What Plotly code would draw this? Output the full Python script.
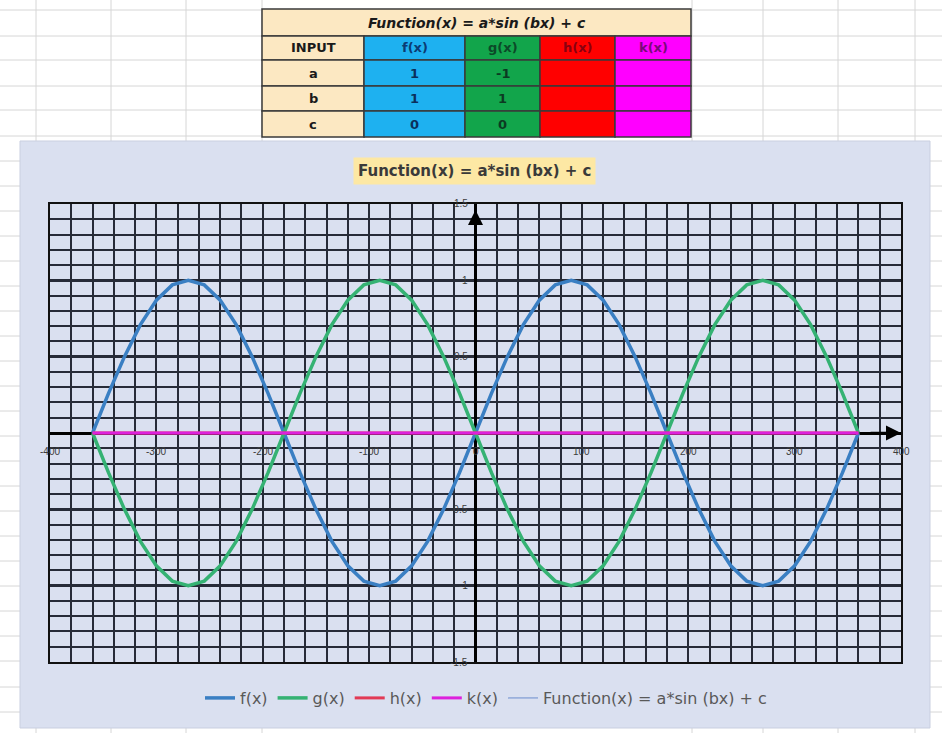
import plotly.graph_objects as go

# ---------------- data ----------------
x_deg = [-360, -345, -330, -315, -300, -285, -270, -255, -240, -225, -210, -195,
         -180, -165, -150, -135, -120, -105, -90, -75, -60, -45, -30, -15,
         0, 15, 30, 45, 60, 75, 90, 105, 120, 135, 150, 165,
         180, 195, 210, 225, 240, 255, 270, 285, 300, 315, 330, 345, 360]
f_vals = [0, 0.26, 0.5, 0.71, 0.87, 0.97, 1, 0.97, 0.87, 0.71, 0.5, 0.26,
          0, -0.26, -0.5, -0.71, -0.87, -0.97, -1, -0.97, -0.87, -0.71, -0.5, -0.26,
          0, 0.26, 0.5, 0.71, 0.87, 0.97, 1, 0.97, 0.87, 0.71, 0.5, 0.26,
          0, -0.26, -0.5, -0.71, -0.87, -0.97, -1, -0.97, -0.87, -0.71, -0.5, -0.26, 0]
g_vals = [0, -0.26, -0.5, -0.71, -0.87, -0.97, -1, -0.97, -0.87, -0.71, -0.5, -0.26,
          0, 0.26, 0.5, 0.71, 0.87, 0.97, 1, 0.97, 0.87, 0.71, 0.5, 0.26,
          0, -0.26, -0.5, -0.71, -0.87, -0.97, -1, -0.97, -0.87, -0.71, -0.5, -0.26,
          0, 0.26, 0.5, 0.71, 0.87, 0.97, 1, 0.97, 0.87, 0.71, 0.5, 0.26, 0]
h_vals = [0] * 49
k_vals = [0] * 49

x_tick_labels = ["-400", "-300", "-200", "-100", "0", "100", "200", "300", "400"]
x_tick_vals = [-400, -300, -200, -100, 0, 100, 200, 300, 400]
y_tick_labels = ["1.5", "1", "0.5", "-0.5", "-1", "-1.5"]
y_tick_vals = [1.5, 1, 0.5, -0.5, -1, -1.5]

title_text = "Function(x) = a*sin (bx) + c"
table_header = ["INPUT", "f(x)", "g(x)", "h(x)", "k(x)"]
table_rows = ["a", "b", "c"]
table_f = ["1", "1", "0"]
table_g = ["-1", "1", "0"]
table_h = ["", "", ""]
table_k = ["", "", ""]

# ---------------- layout helpers ----------------
W, H = 942, 733
def px(x):
    return x / W
def py(y):
    return 1 - y / H

CHART_BG = "#DAE0F0"
GRID = "#272B38"
FONT_UI = "DejaVu Sans"

fig = go.Figure()

series = [
    ("f(x)", f_vals, "#3A7FC3", 3.5),
    ("g(x)", g_vals, "#35B273", 3.5),
    ("h(x)", h_vals, "#E23A55", 3),
    ("k(x)", k_vals, "#DD22DD", 3),
]
for name, vals, col, w in series:
    fig.add_trace(go.Scatter(x=x_deg, y=vals, mode="lines", name=name,
                             line=dict(color=col, width=w)))
fig.add_trace(go.Scatter(x=[None], y=[None], mode="lines", name=title_text,
                         line=dict(color="#8FA8D8", width=1.5)))

shapes = []
annotations = []

# spreadsheet gridlines
row_lines = [10, 36, 60, 86, 110, 136, 161, 186, 211, 236, 261, 286, 311, 336, 361,
             386, 411, 436, 461, 486, 511, 536, 561, 586, 611, 636, 661, 687, 712]
col_lines = [36, 111, 186, 262, 692, 763, 838, 915]
for yy in row_lines:
    shapes.append(dict(type="line", xref="paper", yref="paper", x0=0, x1=1,
                       y0=py(yy), y1=py(yy), line=dict(color="#D6D6D6", width=1),
                       layer="below"))
for xx in col_lines:
    shapes.append(dict(type="line", xref="paper", yref="paper", x0=px(xx), x1=px(xx),
                       y0=0, y1=1, line=dict(color="#D6D6D6", width=1), layer="below"))
# chart area
shapes.append(dict(type="rect", xref="paper", yref="paper", x0=px(20), x1=px(930),
                   y0=py(728), y1=py(141), fillcolor=CHART_BG,
                   line=dict(color="#C9CFE0", width=1), layer="below"))

# ---------------- input table (built from the table arrays) ----------------
col_edges = [262, 364, 465, 540, 615, 691]
row_edges = [36, 60, 86, 111, 137]
fills = ["#FCE8C2", "#1EB1F0", "#12A54B", "#FF0000", "#FF00FF"]
head_colors = ["#1A1A1A", "#0B3C74", "#0C4A28", "#8A0010", "#7A0A7A"]
cell_colors = ["#1A1A1A", "#0B2F5C", "#0C3A22", "#1A1A1A", "#1A1A1A"]
table_columns = [table_rows, table_f, table_g, table_h, table_k]
LINE = dict(color="#3A3A3A", width=1.5)

shapes.append(dict(type="rect", xref="paper", yref="paper", x0=px(col_edges[0]),
                   x1=px(col_edges[-1]), y0=py(row_edges[0]), y1=py(9),
                   fillcolor="#FCE8C2", line=LINE, layer="above"))
annotations.append(dict(xref="paper", yref="paper", x=px((col_edges[0] + col_edges[-1]) / 2),
                        y=py(22.5), xanchor="center", yanchor="middle",
                        text=f"<b><i>{title_text}</i></b>", showarrow=False,
                        font=dict(family=FONT_UI, size=14, color="#1A1A1A")))
for j in range(5):
    x0, x1 = col_edges[j], col_edges[j + 1]
    cells = [table_header[j]] + table_columns[j]
    for i, txt in enumerate(cells):
        y0, y1 = row_edges[i], row_edges[i + 1]
        shapes.append(dict(type="rect", xref="paper", yref="paper", x0=px(x0), x1=px(x1),
                           y0=py(y1), y1=py(y0), fillcolor=fills[j], line=LINE,
                           layer="above"))
        if txt:
            annotations.append(dict(xref="paper", yref="paper", x=px((x0 + x1) / 2),
                                    y=py((y0 + y1) / 2), xanchor="center", yanchor="middle",
                                    text=f"<b>{txt}</b>", showarrow=False,
                                    font=dict(family=FONT_UI, size=13,
                                              color=head_colors[j] if i == 0 else cell_colors[j])))

# chart title
annotations.append(dict(xref="paper", yref="paper", x=px(474), y=py(171),
                        xanchor="center", yanchor="middle",
                        text=f"<b>{title_text}</b>", showarrow=False,
                        bgcolor="#FDE8A4", borderpad=4,
                        font=dict(family=FONT_UI, size=15, color="#3A3A3A")))
# axis arrows
annotations.append(dict(x=400, y=0, ax=370, ay=0, xref="x", yref="y", axref="x", ayref="y",
                        text="", showarrow=True, arrowhead=2, arrowsize=1.2,
                        arrowwidth=2.5, arrowcolor="#000000"))
annotations.append(dict(x=0, y=1.46, ax=0, ay=1.3, xref="x", yref="y", axref="x", ayref="y",
                        text="", showarrow=True, arrowhead=2, arrowsize=1.2,
                        arrowwidth=2.5, arrowcolor="#000000"))
for v, t in zip(x_tick_vals, x_tick_labels):
    annotations.append(dict(x=v, y=0, xref="x", yref="y", text=t, showarrow=False,
                            yshift=-19, font=dict(family="Liberation Sans", size=10,
                                                   color="#3C3C3C")))
for v, t in zip(y_tick_vals, y_tick_labels):
    annotations.append(dict(x=0, y=v, xref="x", yref="y", text=t, showarrow=False,
                            xanchor="right", xshift=-6,
                            font=dict(family="Liberation Sans", size=10, color="#3C3C3C")))

fig.update_layout(
    width=W, height=H,
    margin=dict(l=0, r=0, t=0, b=0),
    paper_bgcolor="#FFFFFF",
    plot_bgcolor=CHART_BG,
    shapes=shapes,
    annotations=annotations,
    showlegend=True,
    legend=dict(orientation="h", x=px(486), xanchor="center", y=py(698), yanchor="middle",
                bgcolor="rgba(0,0,0,0)",
                font=dict(family=FONT_UI, size=16, color="#595959")),
    xaxis=dict(domain=[px(50), px(901)], range=[-400, 400], dtick=100, tick0=0,
               showticklabels=False, ticks="", showgrid=True, gridcolor=GRID,
               gridwidth=2, minor=dict(dtick=20, showgrid=True, gridcolor=GRID, gridwidth=2),
               zeroline=True, zerolinecolor="#000000", zerolinewidth=3,
               showline=True, mirror=True, linecolor="#111111", linewidth=2),
    yaxis=dict(domain=[py(662), py(204)], range=[-1.5, 1.5], dtick=0.5, tick0=0,
               showticklabels=False, ticks="", showgrid=True, gridcolor=GRID,
               gridwidth=2.6, minor=dict(dtick=0.1, showgrid=True, gridcolor=GRID, gridwidth=1.7),
               zeroline=True, zerolinecolor="#000000", zerolinewidth=3,
               showline=True, mirror=True, linecolor="#111111", linewidth=2),
)

fig.write_html("out.html")
